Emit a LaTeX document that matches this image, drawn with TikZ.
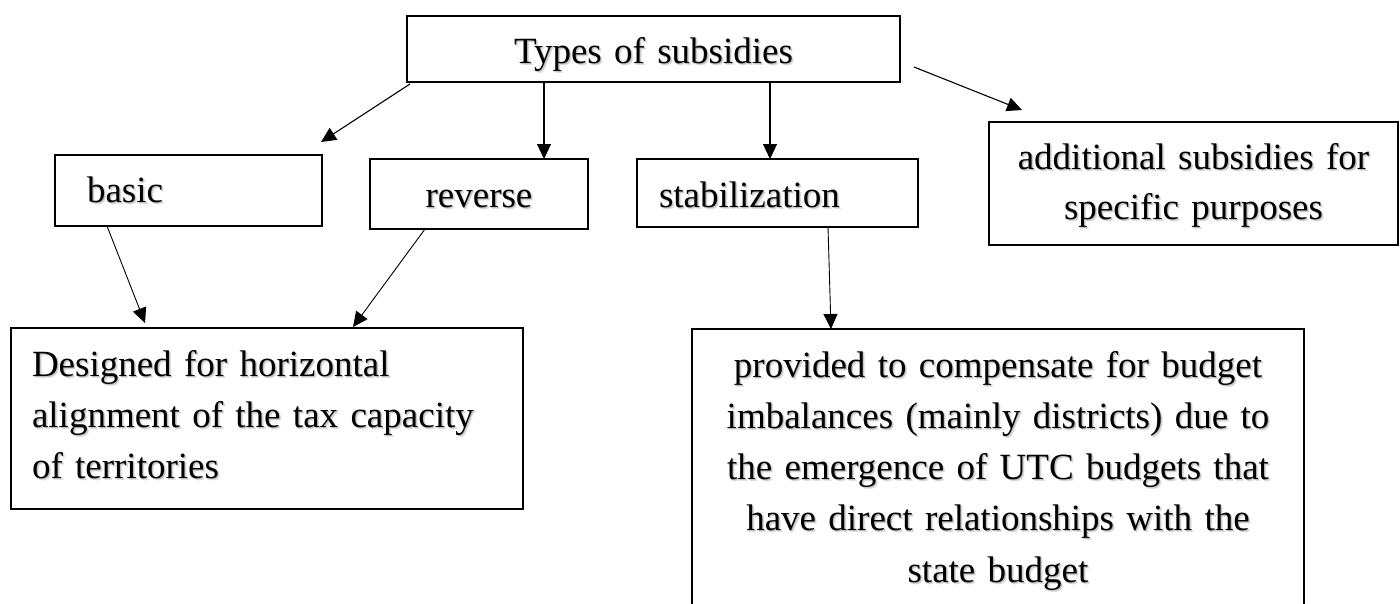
\documentclass[tikz,border=0pt]{standalone}
\usepackage{fontspec}
\setmainfont{Liberation Serif}
\usetikzlibrary{arrows.meta,calc}
\newcommand\sh[1]{\leavevmode\rlap{\kern2pt\raisebox{-2pt}{\color{black!12}#1}}\rlap{\kern1pt\raisebox{-1pt}{\color{black!25}#1}}#1}
\begin{document}
\begin{tikzpicture}[x=1pt,y=-1pt,
  box/.style={draw, line width=2.3pt, rectangle, inner sep=0pt, outer sep=0pt,
    anchor=north west, font=\fontsize{37}{51}\selectfont},
  arr/.style={-{Triangle[length=15pt,width=14pt]}, line width=1.1pt},
  thinarr/.style={arr, line width=0.9pt}]
\fill[white] (0,0) rectangle (1400,603);
\useasboundingbox (0,0) rectangle (1400,603);

\node[box, line width=2.7pt, text width=493pt, text height=47pt, text depth=19pt, align=center]
  (top) at (407,16) {\sh{Types of subsidies}};
\node[box, text width=267pt, text height=47pt, text depth=24pt, align=left]
  (basic) at (55,155) {\hspace*{32pt}\sh{basic}};
\node[box, text width=218pt, text height=48pt, text depth=22pt, align=center]
  (rev) at (370,159) {\sh{reverse}};
\node[box, text width=281pt, text height=48pt, text depth=20pt, align=left]
  (stab) at (637,159) {\hspace*{22pt}\sh{stabilization}};
\node[box, text width=409pt, text height=47pt, text depth=76pt, align=center,
  font=\fontsize{37}{50}\selectfont]
  (add) at (989,122) {\sh{additional subsidies for}\\\sh{specific purposes}};
\node[box, text width=512pt, text height=48pt, text depth=133pt, align=left]
  (horiz) at (11,328) {\hspace*{21pt}\sh{Designed for horizontal}\\
  \hspace*{21pt}\sh{alignment of the tax capacity}\\
  \hspace*{21pt}\sh{of territories}};
\begin{scope}
\clip (0,0) rectangle (1400,603);
\node[box, text width=612pt, text height=48pt, text depth=253pt, align=center,
  font=\fontsize{37}{51.25}\selectfont]
  (comp) at (692,329) {\sh{provided to compensate for budget}\\
  \sh{imbalances (mainly districts) due to}\\
  \sh{the emergence of UTC budgets that}\\
  \sh{have direct relationships with the}\\
  \sh{state budget}};
\end{scope}

\coordinate (basictip) at (321,142);
\coordinate (addstart) at (914,67);
\coordinate (addtip) at (1022,110);
\coordinate (htip1) at (145,323);
\coordinate (htip2) at (353,327);

\draw[arr] ($(top.south west)+(3,2)$) -- (basictip);
\draw[arr] (544,0 |- top.south) -- (544,0 |- rev.north);
\draw[arr] (770,0 |- top.south) -- (770,0 |- stab.north);
\draw[arr] (addstart) -- (addtip);
\draw[thinarr] (107,0 |- basic.south) -- (htip1);
\draw[thinarr] (425,0 |- rev.south) -- (htip2);
\draw[thinarr] (828,0 |- stab.south) -- (831,0 |- comp.north);
\end{tikzpicture}
\end{document}
